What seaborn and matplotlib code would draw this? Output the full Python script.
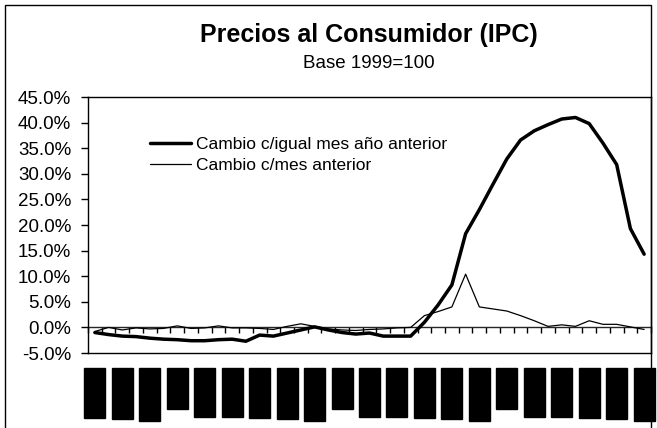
import numpy as np
import pandas as pd
import seaborn as sns
import matplotlib.pyplot as plt
from matplotlib.patches import Rectangle

# Datos mensuales, ene-2000 a may-2003 (variación %)
meses_es = ['ene', 'feb', 'mar', 'abr', 'may', 'jun',
            'jul', 'ago', 'sep', 'oct', 'nov', 'dic']
anios = ['00', '01', '02', '03']
etiquetas = [f'{m}-{a}' for a in anios for m in meses_es][:41]

cambio_anual = [-1.0, -1.4, -1.7, -1.8, -2.1, -2.3, -2.4, -2.6, -2.6, -2.4,
                -2.3, -2.7, -1.5, -1.7, -1.1, -0.5, 0.1, -0.5, -1.0, -1.3,
                -1.1, -1.7, -1.7, -1.7, 1.0, 4.4, 8.3, 18.3, 23.0, 28.0,
                32.9, 36.6, 38.4, 39.6, 40.7, 41.0, 39.8, 36.0, 31.8, 19.3,
                14.3]
cambio_mensual = [-0.8, 0.0, -0.5, -0.1, -0.3, -0.2, 0.3, -0.2, -0.1, 0.3,
                  -0.1, -0.1, -0.2, -0.4, 0.2, 0.7, 0.2, -0.3, -0.5, -0.6,
                  -0.4, -0.3, -0.1, 0.0, 2.3, 3.1, 4.0, 10.4, 4.0, 3.6,
                  3.2, 2.3, 1.3, 0.2, 0.5, 0.2, 1.3, 0.6, 0.6, 0.1,
                  -0.4]

df = pd.DataFrame({'mes': np.arange(len(etiquetas)),
                   'anual': np.array(cambio_anual) / 100,
                   'mensual': np.array(cambio_mensual) / 100})

sns.set_style('white')
plt.rcParams['font.family'] = ['Liberation Sans', 'DejaVu Sans']
plt.rcParams['text.color'] = 'black'
plt.rcParams['xtick.color'] = 'black'
plt.rcParams['ytick.color'] = 'black'

fig = plt.figure(figsize=(6.57, 4.28), dpi=100)
ax = fig.add_axes([88 / 657, 1 - 353 / 428, (651 - 88) / 657, (353 - 97) / 428])

sns.lineplot(data=df, x='mes', y='anual', ax=ax, color='black', linewidth=2.5,
             label='Cambio c/igual mes año anterior')
sns.lineplot(data=df, x='mes', y='mensual', ax=ax, color='black', linewidth=0.9,
             label='Cambio c/mes anterior')

ax.set_xlim(-0.5, len(etiquetas) - 0.5)
ax.set_ylim(-0.05, 0.45)
ax.set_yticks(np.arange(-0.05, 0.451, 0.05))
ax.set_yticklabels([f'{v:.1%}' for v in np.arange(-0.05, 0.451, 0.05)])
ax.set_xlabel('')
ax.set_ylabel('')

for s in ax.spines.values():
    s.set_visible(True)
    s.set_color('black')
    s.set_linewidth(1)

ax.tick_params(axis='y', direction='out', length=5, width=1, labelsize=13.5,
               left=True, pad=7, labelcolor='black')

# etiquetas del eje x (mes por medio)
ax.set_xticks(df['mes'][::2])
ax.set_xticklabels(etiquetas[::2], rotation=90, fontsize=10)
ax.tick_params(axis='x', length=0, pad=13, labelcolor='black')
for lab in ax.get_xticklabels():
    lab.set_bbox(dict(facecolor='black', edgecolor='black', pad=2.5))

# eje en cero con marcas entre meses
eje0 = ax.secondary_xaxis(0.1)
eje0.set_xticks(np.arange(-0.5, len(etiquetas), 1))
eje0.tick_params(direction='out', length=4, width=1, labelbottom=False)
eje0.spines['bottom'].set_linewidth(1)

ax.legend(loc='upper left', bbox_to_anchor=(0.094, 0.877), frameon=False,
          fontsize=12.5, handlelength=2.4, handletextpad=0.3, borderpad=0,
          labelspacing=0.3)

fig.text(369 / 657, 1 - 35 / 428, 'Precios al Consumidor (IPC)', ha='center',
         va='center', fontsize=18, fontweight='bold')
fig.text(369 / 657, 1 - 63 / 428, 'Base 1999=100', ha='center', va='center',
         fontsize=13.5)

fig.patches.append(Rectangle((5 / 657, -0.1), (651 - 5) / 657, 1.1 - 5 / 428,
                             transform=fig.transFigure, fill=False,
                             edgecolor='black', linewidth=1))

fig.savefig('out.png', dpi=100)
